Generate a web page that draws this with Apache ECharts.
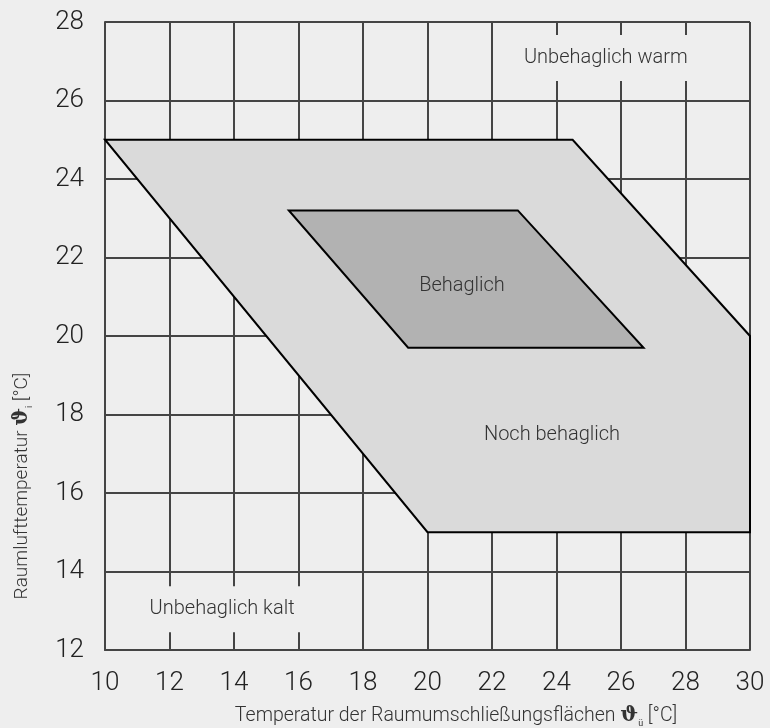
<!DOCTYPE html>
<html>
<head>
<meta charset="utf-8">
<script src="https://cdn.jsdelivr.net/npm/echarts@6/dist/echarts.min.js"></script>
<style>
  html, body { margin: 0; padding: 0; background: #eeeeee; }
  #chart { width: 770px; height: 728px; }
</style>
</head>
<body>
<div id="chart"></div>
<script>
// Comfort zones: surface temperature (x) vs. room air temperature (y), °C
const outerZone = [[10, 25], [24.5, 25], [30, 20], [30, 15], [20, 15]];   // "Noch behaglich"
const innerZone = [[15.7, 23.2], [22.8, 23.2], [26.7, 19.7], [19.4, 19.7]]; // "Behaglich"

// Zone names with their anchor point [x, y]
const zoneNames = ['Behaglich', 'Noch behaglich'];
const zoneAnchors = [[21.07, 21.28], [23.86, 17.49]];
const outsideNames = ['Unbehaglich warm', 'Unbehaglich kalt'];
const outsideAnchors = [[25.53, 27.08], [13.63, 13.04]];

// Axis ranges
const xRange = [10, 30];
const yRange = [12, 28];
const tickStep = 2;

const FONT = 'Roboto';
const chart = echarts.init(document.getElementById('chart'));

function zoneSeries(points, fill) {
  return {
    type: 'custom',
    coordinateSystem: 'cartesian2d',
    silent: true,
    data: points,
    z: 2,
    renderItem: function (params, api) {
      if (params.dataIndex !== 0) return null;
      return {
        type: 'polygon',
        shape: { points: points.map(function (p) { return api.coord(p); }) },
        style: { fill: fill, stroke: '#000000', lineWidth: 2 }
      };
    }
  };
}

function labelSeries(names, anchors, bg, z) {
  return {
    type: 'custom',
    coordinateSystem: 'cartesian2d',
    silent: true,
    z: z,
    data: anchors,
    renderItem: function (params, api) {
      const pt = api.coord([api.value(0), api.value(1)]);
      return {
        type: 'text',
        x: pt[0], y: pt[1],
        style: {
          text: names[params.dataIndex],
          align: 'center', verticalAlign: 'middle',
          fill: '#333333',
          fontFamily: FONT, fontWeight: 300, fontSize: 20,
          backgroundColor: bg || 'transparent',
          padding: bg ? [13, 8] : 0
        }
      };
    }
  };
}

const titleRich = {
  v: { fontFamily: 'DejaVu Serif', fontWeight: 'bold', fontSize: 21, fill: '#333333' },
  s: { fontFamily: FONT, fontSize: 9, fill: '#333333', padding: [15, 0, 0, 0] }
};

chart.setOption({
  backgroundColor: '#eeeeee',
  animation: false,
  grid: { left: 105, right: 20, top: 22, bottom: 78 },
  xAxis: {
    type: 'value',
    min: xRange[0], max: xRange[1], interval: tickStep,
    axisLine: { show: true, lineStyle: { color: '#444444', width: 2 } },
    axisTick: { show: false },
    splitLine: { show: true, lineStyle: { color: '#444444', width: 2 } },
    axisLabel: { color: '#222222', fontFamily: FONT, fontWeight: 300, fontSize: 26, margin: 20 }
  },
  yAxis: {
    type: 'value',
    min: yRange[0], max: yRange[1], interval: tickStep,
    axisLine: { show: true, lineStyle: { color: '#444444', width: 2 } },
    axisTick: { show: false },
    splitLine: { show: true, lineStyle: { color: '#444444', width: 2 } },
    axisLabel: { color: '#222222', fontFamily: FONT, fontWeight: 300, fontSize: 26, margin: 21 }
  },
  series: [
    zoneSeries(outerZone, '#dadada'),
    zoneSeries(innerZone, '#b2b2b2'),
    labelSeries(zoneNames, zoneAnchors, null, 5),
    labelSeries(outsideNames, outsideAnchors, '#eeeeee', 5)
  ],
  graphic: [
    {
      type: 'text',
      x: 456, y: 716,
      style: {
        text: 'Temperatur der Raumumschließungsflächen {v|ϑ}{s|ü} [°C]',
        align: 'center', verticalAlign: 'middle',
        fill: '#333333', fontFamily: FONT, fontWeight: 300, fontSize: 19.5,
        rich: titleRich
      }
    },
    {
      type: 'text',
      x: 22, y: 486,
      rotation: Math.PI / 2,
      style: {
        text: 'Raumlufttemperatur {v|ϑ}{s|i} [°C]',
        align: 'center', verticalAlign: 'middle',
        fill: '#333333', fontFamily: FONT, fontWeight: 300, fontSize: 19,
        rich: titleRich
      }
    }
  ]
});
</script>
</body>
</html>
